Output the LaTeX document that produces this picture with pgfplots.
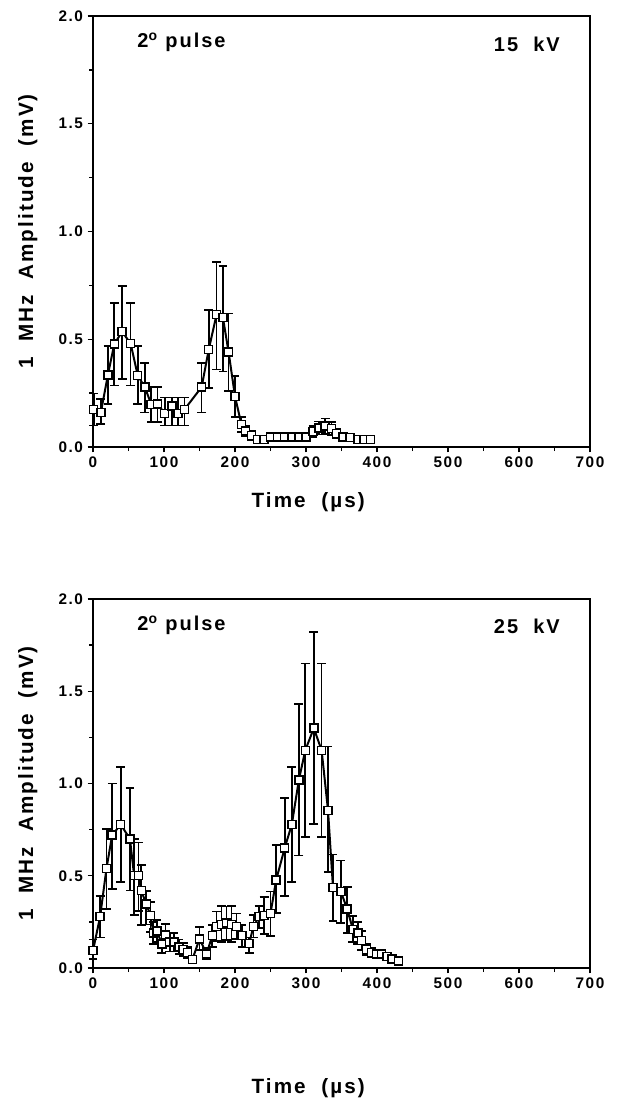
\documentclass[border=0pt]{standalone}
\usepackage{pgfplots}
\pgfplotsset{compat=1.18}
\usepackage{fontspec}
\setmainfont{Liberation Sans}[LetterSpace=10]
\newcommand{\labfont}{\fontsize{15.5}{18}\selectfont\bfseries}
\newcommand{\anfont}{\fontsize{15}{18}\selectfont\bfseries}
\pgfplotsset{
  myax/.style={
    scale only axis,
    xmin=0, xmax=700, ymin=0, ymax=2,
    xtick={0,100,...,700},
    minor xtick={50,150,...,650},
    ytick={0,0.5,1,1.5,2},
    minor ytick={0.25,0.75,1.25,1.75},
    tick align=outside, tick pos=left,
    major tick length=4pt, minor tick length=3pt,
    axis line style={line width=1.3pt},
    every tick/.style={black, line width=1.1pt},
    /pgf/number format/assume math mode=true,
    yticklabel style={/pgf/number format/fixed, /pgf/number format/fixed zerofill, /pgf/number format/precision=1},
    xticklabel style={/pgf/number format/fixed},
    ticklabel style={font=\fontsize{11.5}{13}\selectfont\bfseries},
    ylabel={1\ \ MHz\ \ Amplitude\ \ (mV)},
    every axis y label/.style={at={(axis description cs:-0.131,0.5)}, rotate=90, anchor=center, font=\labfont},
    xlabel={Time\ \ (µs)},
    clip=false,
  },
  myplot/.style={
    black, line width=1.5pt,
    mark=square*, mark size=3pt,
    mark options={fill=white, draw=black, line width=1.1pt, solid},
    error bars/.cd, y dir=both, y explicit,
    error bar style={line width=1.3pt, black},
    error mark options={black, mark size=3.3pt, line width=1.3pt, rotate=90},
  },
}
\begin{document}
\begin{tikzpicture}
% ---------- top panel: 15 kV ----------
\begin{axis}[myax,
  at={(69.75pt,-12pt)}, anchor=north west,
  width=372.75pt, height=323.25pt,
  every axis x label/.style={at={(axis description cs:0.433,0)}, anchor=center, yshift=-41pt, font=\labfont},
]
\addplot[myplot] table[x=x, y=y, y error plus=ep, y error minus=em] {
x y ep em
1 0.173 0.075 0.073
11 0.159 0.065 0.051
21 0.335 0.135 0.135
30 0.478 0.19 0.193
41 0.535 0.213 0.219
53 0.48 0.188 0.195
63 0.332 0.138 0.134
73 0.278 0.112 0.118
82 0.198 0.08 0.082
91 0.20 0.078 0.084
101 0.156 0.074 0.056
111 0.19 0.04 0.09
120 0.156 0.074 0.056
129 0.175 0.055 0.075
153 0.278 0.112 0.118
163 0.452 0.183 0.177
174 0.614 0.246 0.254
183 0.60 0.24 0.25
191 0.44 0.18 0.18
200 0.235 0.095 0.095
209 0.105 0.035 0.035
215 0.075 0.025 0.025
223 0.054 0.02 0.02
232 0.035 0.015 0.015
241 0.035 0.015 0.015
250 0.047 0.02 0.02
260 0.047 0.02 0.02
270 0.047 0.02 0.02
280 0.047 0.02 0.02
290 0.047 0.02 0.02
300 0.047 0.02 0.02
310 0.073 0.025 0.025
318 0.088 0.03 0.03
327 0.097 0.035 0.035
336 0.085 0.03 0.03
343 0.062 0.02 0.02
352 0.046 0.015 0.015
362 0.043 0.015 0.015
373 0.034 0.01 0.01
382 0.034 0.01 0.01
391 0.034 0.01 0.01
};
\node[font=\anfont, anchor=west] at (axis description cs:0.08,0.938) {2\textsuperscript{o} pulse};
\node[font=\anfont, anchor=center] at (axis description cs:0.873,0.935) {15\ \ kV};
\end{axis}
% ---------- bottom panel: 25 kV ----------
\begin{axis}[myax,
  at={(69.75pt,-449.25pt)}, anchor=north west,
  width=372.75pt, height=276.75pt,
  every axis x label/.style={at={(axis description cs:0.433,0)}, anchor=center, yshift=-90pt, font=\labfont},
]
\addplot[myplot] table[x=x, y=y, y error plus=ep, y error minus=em] {
x y ep em
0 0.094 0.06 0.045
10 0.278 0.112 0.112
19 0.54 0.214 0.22
27 0.72 0.28 0.29
39 0.778 0.312 0.312
52 0.70 0.277 0.28
58 0.50 0.20 0.214
64 0.50 0.18 0.19
68 0.42 0.14 0.185
75 0.346 0.07 0.11
81 0.286 0.07 0.09
85 0.19 0.06 0.06
90 0.20 0.06 0.06
97 0.13 0.05 0.05
102 0.18 0.06 0.06
108 0.14 0.05 0.05
114 0.14 0.05 0.05
121 0.115 0.04 0.04
127 0.10 0.035 0.035
133 0.084 0.03 0.03
140 0.046 0.02 0.02
150 0.158 0.065 0.06
160 0.077 0.03 0.03
168 0.175 0.06 0.06
174 0.226 0.08 0.08
181 0.235 0.10 0.095
188 0.243 0.09 0.09
195 0.235 0.10 0.095
202 0.226 0.07 0.07
210 0.175 0.06 0.06
220 0.132 0.034 0.05
226 0.226 0.06 0.06
234 0.278 0.06 0.06
241 0.286 0.10 0.10
250 0.295 0.12 0.12
258 0.478 0.19 0.18
270 0.65 0.27 0.26
280 0.778 0.31 0.31
290 1.02 0.41 0.41
299 1.18 0.47 0.47
311 1.30 0.52 0.52
322 1.18 0.47 0.47
331 0.855 0.345 0.335
338 0.437 0.178 0.182
349 0.415 0.168 0.172
358 0.32 0.12 0.13
366 0.21 0.07 0.07
373 0.19 0.06 0.06
378 0.149 0.05 0.05
385 0.10 0.03 0.03
392 0.084 0.025 0.025
399 0.077 0.02 0.02
406 0.077 0.02 0.02
414 0.063 0.018 0.018
421 0.05 0.015 0.015
430 0.038 0.01 0.01
};
\node[font=\anfont, anchor=west] at (axis description cs:0.08,0.93) {2\textsuperscript{o} pulse};
\node[font=\anfont, anchor=center] at (axis description cs:0.873,0.925) {25\ \ kV};
\end{axis}
\pgfresetboundingbox
\useasboundingbox (0,0) rectangle (463.5pt,-837pt);
\end{tikzpicture}
\end{document}
